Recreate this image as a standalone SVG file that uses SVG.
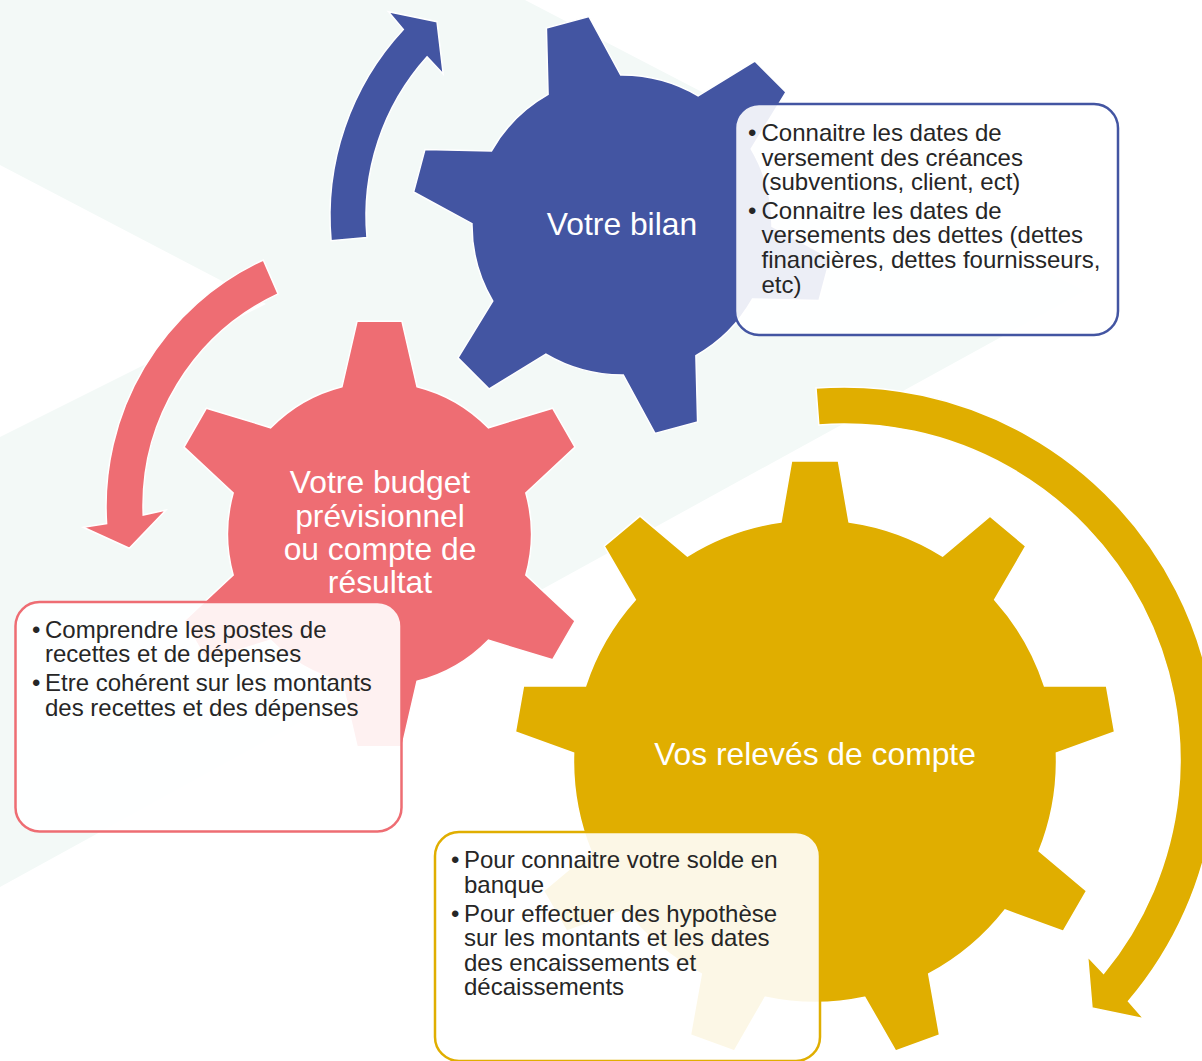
<svg xmlns="http://www.w3.org/2000/svg" width="1202" height="1061" viewBox="0 0 1202 1061">
  <style>
    .bg { fill: #F3F9F7; }
    .blue { fill: #4355A2; stroke: #ffffff; stroke-width: 1.5; }
    .pink { fill: #EE6D73; stroke: #ffffff; stroke-width: 1.5; }
    .gold { fill: #E0AE00; stroke: #ffffff; stroke-width: 1.5; }
    .lbl { font-family: "Liberation Sans", Arial, sans-serif; font-size: 31.8px; fill: #ffffff; text-anchor: middle; }
    .txt { font-family: "Liberation Sans", Arial, sans-serif; font-size: 24px; fill: #262626; }
    .box { fill: #ffffff; fill-opacity: 0.9; stroke-width: 2.5; }
  </style>

  <polygon class="bg" points="0,0 525,0 1085,291 0,887 0,437 266,304 0,165"/>

  <g id="connectors">
    <path id="arrow-blue" class="blue" d="M331.1,240.8 A274,274 0 0 1 403.3,29.5 L388.4,11.7 L437,21.7 L443.2,74 L427.1,56.8 A238,238 0 0 0 367,237.6 Z"/>
    <path id="arrow-pink" class="pink" d="M263.3,260 A271,271 0 0 0 106.6,523.5 L83.3,527.3 L129.3,548.3 L166,510 L143.2,515 A234,234 0 0 1 278.1,293.9 Z"/>
    <path id="arrow-gold" class="gold" d="M816,388 A373,373 0 0 1 1128.5,1001.3 L1143.8,1018.7 L1092,1008 L1087.6,956.6 L1103.6,973.3 A336,336 0 0 0 818.8,424.9 Z"/>
  </g>

  <g id="node-bilan">
    <path class="blue" d="M548.1,94.4 L546.4,28 L589,16.6 L620.7,75 A150,150 0 0 1 698.1,95.8 L754.8,61 L786,92.2 L751.2,148.9 A150,150 0 0 1 772,226.3 L830.4,258 L819,300.6 L752.6,298.9 A150,150 0 0 1 695.9,355.6 L697.6,422 L655,433.4 L623.3,375 A150,150 0 0 1 545.9,354.2 L489.2,389 L458,357.8 L492.8,301.1 A150,150 0 0 1 472,223.7 L413.6,192 L425,149.4 L491.4,151.1 A150,150 0 0 1 548.1,94.4 Z"/>
    <text class="lbl" x="622" y="235">Votre bilan</text>
    <rect class="box" x="735" y="104" width="383" height="231" rx="24" stroke="#4355A2"/>
    <text class="txt" y="141"><tspan x="748">•</tspan><tspan x="761.5">Connaitre les dates de</tspan><tspan x="761.5" dy="24.5">versement des créances</tspan><tspan x="761.5" dy="24.5">(subventions, client, ect)</tspan></text>
    <text class="txt" y="218.5"><tspan x="748">•</tspan><tspan x="761.5">Connaitre les dates de</tspan><tspan x="761.5" dy="24.8">versements des dettes (dettes</tspan><tspan x="761.5" dy="24.9">financières, dettes fournisseurs,</tspan><tspan x="761.5" dy="24.8">etc)</tspan></text>
  </g>

  <g id="node-budget">
    <path class="pink" d="M342,386.7 L357.1,321.2 L401.9,321.2 L417,386.7 A152,152 0 0 1 488.3,427.8 L552.6,408.2 L575,447 L525.8,492.9 A152,152 0 0 1 525.8,575.1 L575,621 L552.6,659.8 L488.3,640.2 A152,152 0 0 1 417,681.3 L401.9,746.8 L357.1,746.8 L342,681.3 A152,152 0 0 1 270.7,640.2 L206.4,659.8 L184,621 L233.2,575.1 A152,152 0 0 1 233.2,492.9 L184,447 L206.4,408.2 L270.7,427.8 A152,152 0 0 1 342,386.7 Z"/>
    <text class="lbl" x="380" y="493.3"><tspan x="380">Votre budget</tspan><tspan x="380" dy="33.3">prévisionnel</tspan><tspan x="380" dy="33.4">ou compte de</tspan><tspan x="380" dy="33.3">résultat</tspan></text>
    <rect class="box" x="15.5" y="602" width="386" height="229.5" rx="24" stroke="#EE6D73"/>
    <text class="txt" y="637.5"><tspan x="32">•</tspan><tspan x="45">Comprendre les postes de</tspan><tspan x="45" dy="24.5">recettes et de dépenses</tspan></text>
    <text class="txt" y="691"><tspan x="32">•</tspan><tspan x="45">Etre cohérent sur les montants</tspan><tspan x="45" dy="24.5">des recettes et des dépenses</tspan></text>
  </g>

  <g id="node-releves">
    <path class="gold" d="M781,521.9 L791.6,460.9 L838.4,460.9 L849,521.9 A241.5,241.5 0 0 1 942.6,556 L990,516.1 L1025.8,546.2 L994.7,599.7 A241.5,241.5 0 0 1 1044.5,686 L1106.5,685.9 L1114.6,731.9 L1056.4,753 A241.5,241.5 0 0 1 1039.1,851.1 L1086.6,890.8 L1063.2,931.3 L1005,910 A241.5,241.5 0 0 1 928.7,974 L939.6,1035 L895.7,1051 L864.8,997.3 A241.5,241.5 0 0 1 765.2,997.3 L734.3,1051 L690.4,1035 L701.3,974 A241.5,241.5 0 0 1 625,910 L566.8,931.3 L543.4,890.8 L590.9,851.1 A241.5,241.5 0 0 1 573.6,753 L515.4,731.9 L523.5,685.9 L585.5,686 A241.5,241.5 0 0 1 635.3,599.7 L604.2,546.2 L640,516.1 L687.4,556 A241.5,241.5 0 0 1 781,521.9 Z"/>
    <text class="lbl" x="815" y="765">Vos relevés de compte</text>
    <rect class="box" x="435" y="832" width="385" height="229" rx="24" stroke="#E0AE00"/>
    <text class="txt" y="868"><tspan x="451">•</tspan><tspan x="464">Pour connaitre votre solde en</tspan><tspan x="464" dy="24.5">banque</tspan></text>
    <text class="txt" y="921.5"><tspan x="451">•</tspan><tspan x="464">Pour effectuer des hypothèse</tspan><tspan x="464" dy="24.5">sur les montants et les dates</tspan><tspan x="464" dy="24.5">des encaissements et</tspan><tspan x="464" dy="24.5">décaissements</tspan></text>
  </g>
</svg>
